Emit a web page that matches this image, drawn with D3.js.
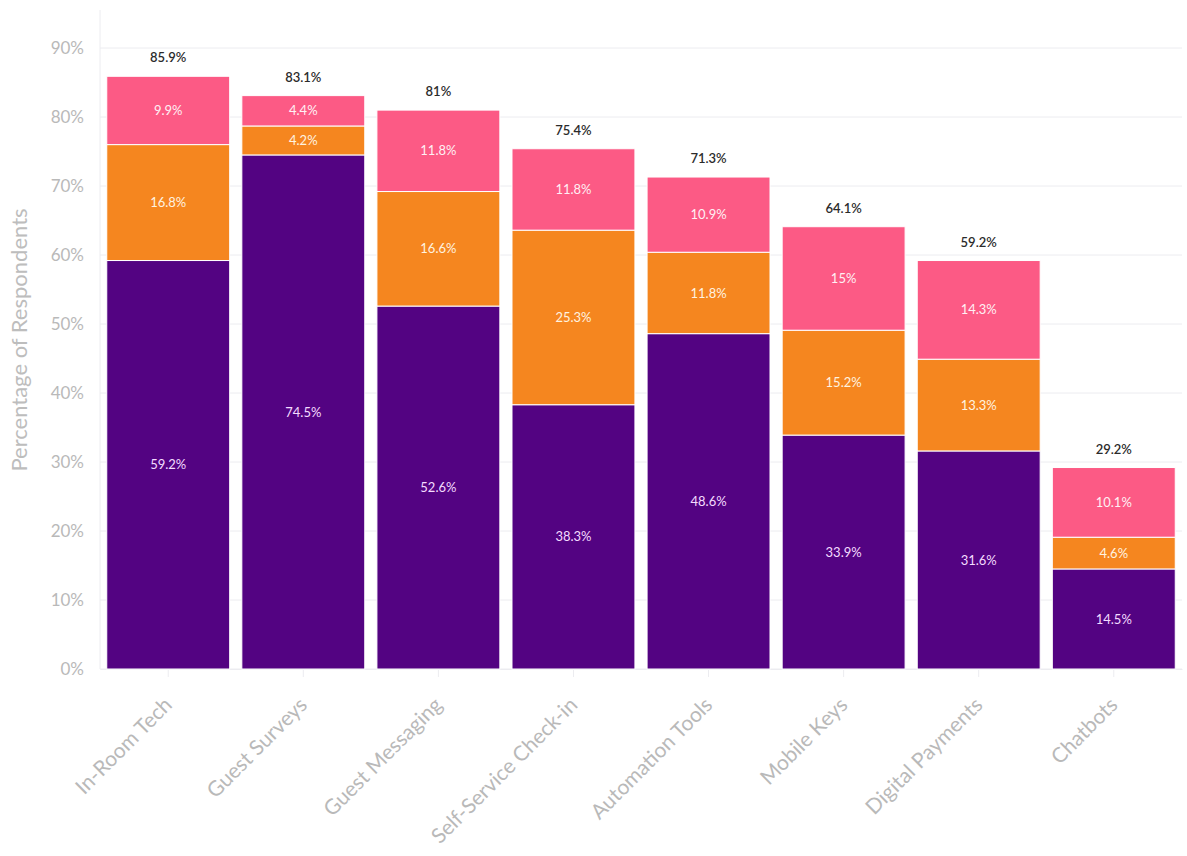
<!DOCTYPE html>
<html>
<head>
<meta charset="utf-8">
<script src="https://cdn.jsdelivr.net/npm/d3@7"></script>
<style>
  html, body { margin: 0; padding: 0; background: #fff; }
  svg { display: block; font-family: Lato, "Open Sans", sans-serif; }
</style>
</head>
<body>
<svg id="chart" width="1187" height="856"></svg>
<script>
// Technology adoption by category, stacked in three response groups
const categories = ["In-Room Tech", "Guest Surveys", "Guest Messaging", "Self-Service Check-in",
                    "Automation Tools", "Mobile Keys", "Digital Payments", "Chatbots"];
const seriesBase   = [59.2, 74.5, 52.6, 38.3, 48.6, 33.9, 31.6, 14.5];
const seriesMiddle = [16.8, 4.2, 16.6, 25.3, 11.8, 15.2, 13.3, 4.6];
const seriesTop    = [9.9, 4.4, 11.8, 11.8, 10.9, 15, 14.3, 10.1];
const totals       = [85.9, 83.1, 81, 75.4, 71.3, 64.1, 59.2, 29.2];
const yTicks       = [0, 10, 20, 30, 40, 50, 60, 70, 80, 90];
const seriesKeys   = ["base", "middle", "top"];
const seriesColors = ["#530382", "#f5861f", "#fc5a85"];

const rows = categories.map((c, i) => ({
  category: c, base: seriesBase[i], middle: seriesMiddle[i], top: seriesTop[i], total: totals[i]
}));

const svg = d3.select("#chart");
const plot = { left: 100, right: 1182, top: 10, bottom: 669 };

const x = d3.scaleBand()
  .domain(categories)
  .range([plot.left, plot.right])
  .paddingInner(0.09)
  .paddingOuter(0.05);

const y = d3.scaleLinear()
  .domain([0, 90])
  .range([plot.bottom, plot.bottom - 90 * 6.9]);

const color = d3.scaleOrdinal().domain(seriesKeys).range(seriesColors);

// Horizontal gridlines
svg.append("g")
  .selectAll("line")
  .data(yTicks)
  .join("line")
  .attr("x1", plot.left).attr("x2", plot.right)
  .attr("y1", d => y(d)).attr("y2", d => y(d))
  .attr("stroke", "#ececf0").attr("stroke-width", 1);

// Vertical axis line
svg.append("line")
  .attr("x1", plot.left).attr("x2", plot.left)
  .attr("y1", plot.top).attr("y2", plot.bottom)
  .attr("stroke", "#ececf0");

// Y axis
const yAxis = svg.append("g")
  .attr("transform", `translate(${plot.left},0)`)
  .call(d3.axisLeft(y).tickValues(yTicks).tickFormat(d => d + "%").tickSize(0).tickPadding(16));
yAxis.attr("font-family", null);
yAxis.select(".domain").remove();
yAxis.selectAll("text")
  .attr("fill", "#b9b9b9")
  .attr("font-size", 17);

// Y axis title
svg.append("text")
  .attr("transform", `translate(27,340) rotate(-90)`)
  .attr("text-anchor", "middle")
  .attr("fill", "#bdbdbd")
  .attr("font-size", 22)
  .text("Percentage of Respondents");

// X axis with small ticks and rotated labels
const xAxis = svg.append("g")
  .attr("transform", `translate(0,${plot.bottom})`)
  .call(d3.axisBottom(x).tickSize(8).tickSizeOuter(0));
xAxis.attr("font-family", null);
xAxis.select(".domain").attr("stroke", "#ececf0");
xAxis.selectAll(".tick line").attr("stroke", "#ececf0");
xAxis.selectAll("text")
  .attr("fill", "#b9b9b9")
  .attr("font-size", 21)
  .attr("text-anchor", "end")
  .attr("transform", "translate(0,32) rotate(-45)")
  .attr("dy", "0.35em")
  .attr("y", 0)
  .attr("x", 0);

// Stacked bars
const stacked = d3.stack().keys(seriesKeys)(rows);

const layers = svg.append("g")
  .selectAll("g")
  .data(stacked)
  .join("g")
  .attr("fill", d => color(d.key));

layers.selectAll("rect")
  .data(d => d)
  .join("rect")
  .attr("x", d => x(d.data.category))
  .attr("width", x.bandwidth())
  .attr("y", d => y(d[1]))
  .attr("height", d => y(d[0]) - y(d[1]))
  .attr("stroke", "#fff")
  .attr("stroke-width", 1);

// Segment value labels
layers.selectAll("text")
  .data(d => d.map(s => ({ s, key: d.key })))
  .join("text")
  .attr("x", d => x(d.s.data.category) + x.bandwidth() / 2)
  .attr("y", d => y((d.s[0] + d.s[1]) / 2))
  .attr("dy", "0.35em")
  .attr("text-anchor", "middle")
  .attr("font-size", 13)
  .attr("fill", d => d.key === "base" ? "#f3dcff" : (d.key === "middle" ? "#fff3e0" : "#fff0f4"))
  .text(d => (d.s[1] - d.s[0]).toFixed(1).replace(/\.0$/, "") + "%");

// Total labels above each bar
svg.append("g")
  .selectAll("text")
  .data(rows)
  .join("text")
  .attr("x", d => x(d.category) + x.bandwidth() / 2)
  .attr("y", d => y(d.total) - 14)
  .attr("text-anchor", "middle")
  .attr("font-size", 13)
  .attr("font-weight", 600)
  .attr("fill", "#2b2b2b")
  .text(d => d.total + "%");
</script>
</body>
</html>
